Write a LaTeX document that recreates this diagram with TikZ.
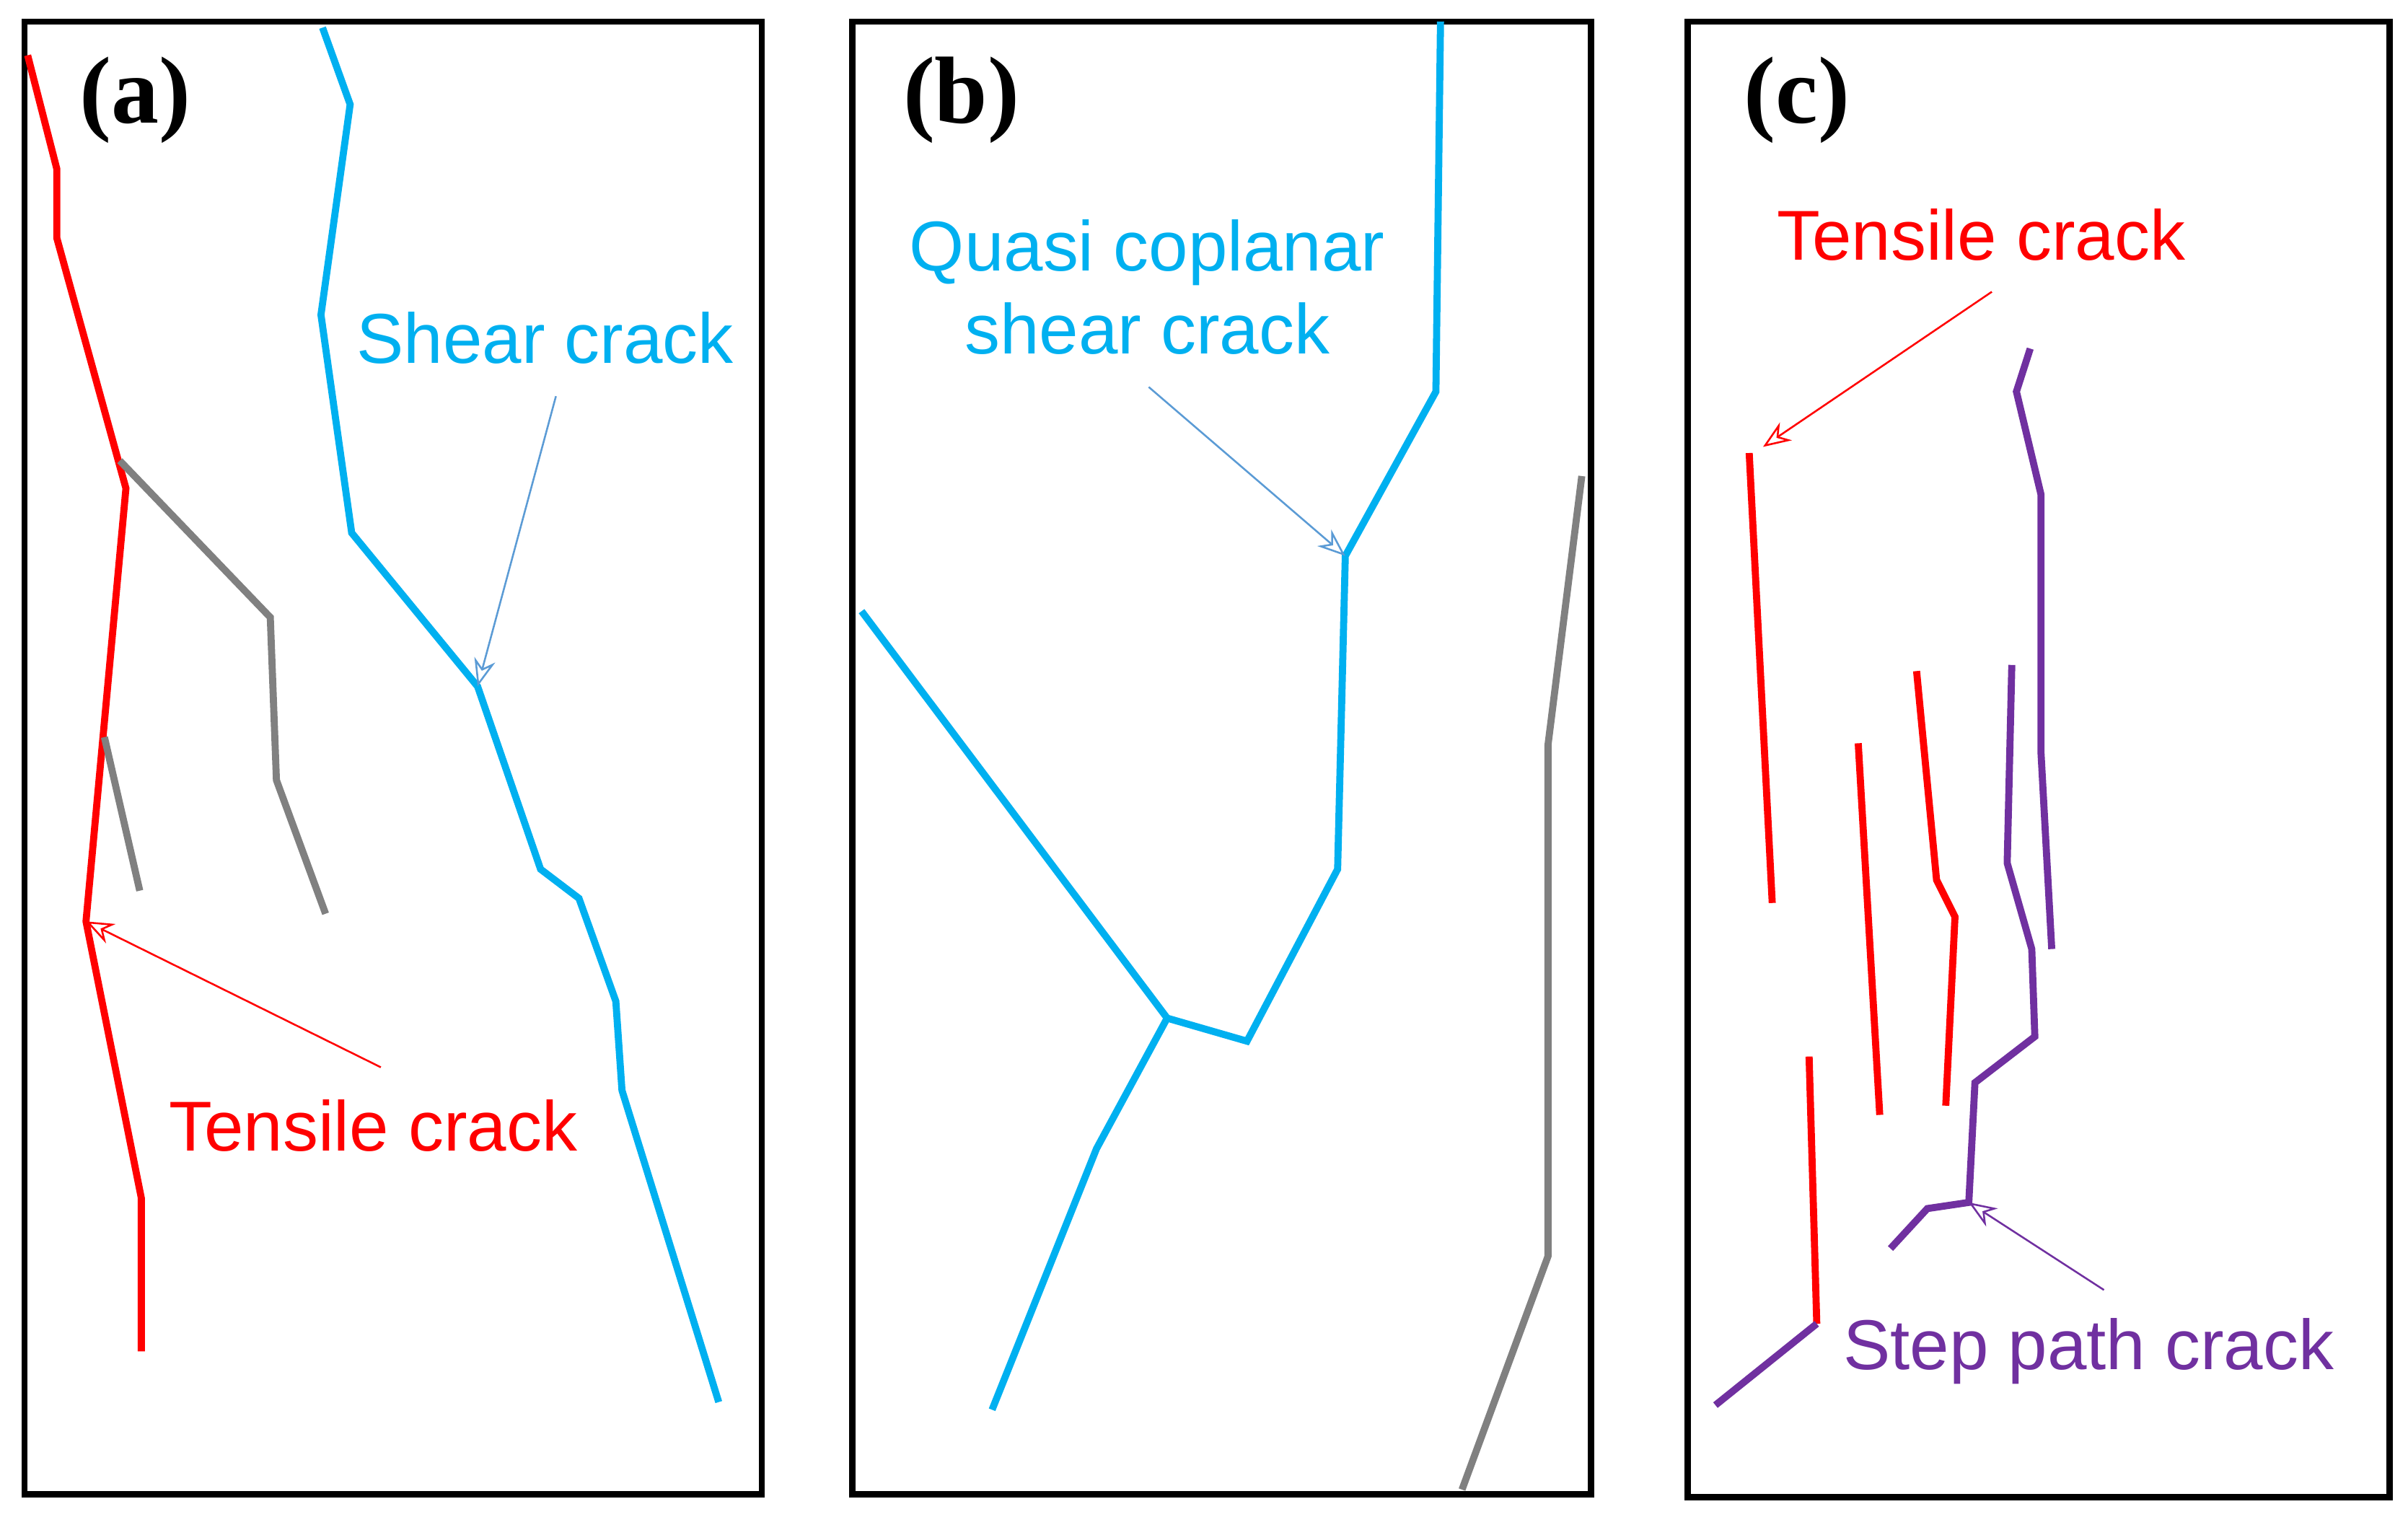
\documentclass[tikz,border=0pt]{standalone}
\usepackage{fontspec}
\setmainfont{Liberation Sans}
\newfontfamily\lab{Liberation Serif}
\usetikzlibrary{arrows.meta}
\definecolor{cblue}{HTML}{00B0F0}
\definecolor{ablue}{HTML}{5B9BD5}
\definecolor{cred}{HTML}{FF0000}
\definecolor{cgray}{HTML}{808080}
\definecolor{cpur}{HTML}{7030A0}
\begin{document}
\begin{tikzpicture}[x=0.5pt,y=-0.5pt,
 box/.style={line width=2pt},
 crack/.style={line width=2.3pt},
 arr/.style={line width=0.6pt,-{Stealth[open,length=9pt,width=7pt]}},
 txt/.style={font=\fontsize{23}{27}\selectfont},
 plab/.style={font=\lab\bfseries\fontsize{31}{35}\selectfont}]
\useasboundingbox (0,0) rectangle (1568,996);
\draw[box] (16,14) rectangle (496,973);
\draw[box] (555,14) rectangle (1036,973);
\draw[box] (1099,14) rectangle (1556,975);
\node[plab] (la) at (88,65) {(a)};
\node[plab] (lb) at (626,65) {(b)};
\node[plab] (lc) at (1170,65) {(c)};
% (a)
\draw[crack,cred] (18,36)--(37,110)--(37,155)--(82,318)--(56,600)--(92,780)--(92,880);
\draw[crack,cgray] (78,300)--(176,402)--(180,508)--(212,595);
\draw[crack,cgray] (68,480)--(91,580);
\draw[crack,cblue] (210,18)--(228,68)--(209,205)--(229,347)--(311,447)--(352,566)--(377,585)--(401,652)--(405,710)--(468,913);
\node[txt,text=cblue] (ta) at (355,220) {Shear crack};
\coordinate (sa) at (311,447);
\draw[arr,ablue] (362,258) -- (sa);
\node[txt,text=cred] (tb) at (243,733) {Tensile crack};
\coordinate (ra) at (56,600);
\draw[arr,cred] (248,695) -- (ra);
% (b)
\draw[crack,cblue] (938,14)--(935,255)--(876,362)--(871,566)--(812,678)--(760,663)--(561,398);
\draw[crack,cblue] (760,663)--(714,748)--(646,918);
\draw[crack,cgray] (1030,310)--(1008,485)--(1008,818)--(952,970);
\node[txt,text=cblue,align=center] (tq) at (747,187) {Quasi coplanar\\shear crack};
\coordinate (qb) at (876,362);
\draw[arr,ablue] (748,252) -- (qb);
% (c)
\draw[crack,cred] (1139,295)--(1154,588);
\draw[crack,cred] (1210,484)--(1224,726);
\draw[crack,cred] (1248,437)--(1261,573)--(1273,597)--(1267,720);
\draw[crack,cred] (1178,688)--(1183,862);
\draw[crack,cpur] (1183,862)--(1117,915);
\draw[crack,cpur] (1322,227)--(1313,255)--(1329,322)--(1329,490)--(1336,618);
\draw[crack,cpur] (1310,433)--(1307,562)--(1323,618)--(1325,675)--(1286,705)--(1282,783)--(1255,787)--(1231,813);
\node[txt,text=cred] (tc) at (1290,153) {Tensile crack};
\coordinate (rc) at (1148,291);
\draw[arr,cred] (1297,190) -- (rc);
\node[txt,text=cpur] (sp) at (1360,880) {Step path crack};
\coordinate (pc) at (1282,783);
\draw[arr,cpur] (1370,840) -- (pc);
\end{tikzpicture}
\end{document}
